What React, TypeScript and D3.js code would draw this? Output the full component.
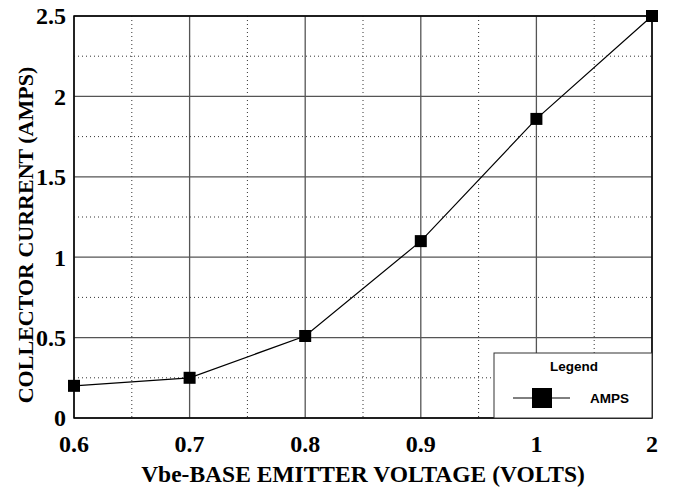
import React from "react";
import * as d3 from "d3";

const categories = ["0.6", "0.7", "0.8", "0.9", "1", "2"];
const amps = [0.2, 0.25, 0.51, 1.1, 1.86, 2.5];
const yTicks = [0, 0.5, 1, 1.5, 2, 2.5];
const yMinor = [0.25, 0.75, 1.25, 1.75, 2.25];

const W = 673, H = 489;
const L = 74, R = 652, T = 16, B = 418;

export default function App() {
  const x = d3.scalePoint<string>().domain(categories).range([L, R]);
  const y = d3.scaleLinear().domain([0, 2.5]).range([B, T]);
  const step = x.step();
  const line = d3.line<number>().x((_, i) => x(categories[i])!).y((d) => y(d));
  const serif = "'Liberation Serif', 'Times New Roman', serif";
  const sans = "'Liberation Sans', Arial, sans-serif";
  return (
    <svg width={W} height={H} style={{ position: "absolute", left: 0, top: 0, background: "#fff" }}>
      {categories.slice(0, -1).map((c) => (
        <line key={"vm" + c} x1={x(c)! + step / 2} x2={x(c)! + step / 2} y1={T} y2={B} stroke="#333" strokeWidth={1} strokeDasharray="1,3" />
      ))}
      {yMinor.map((v) => (
        <line key={"hm" + v} x1={L} x2={R} y1={y(v)} y2={y(v)} stroke="#333" strokeWidth={1} strokeDasharray="1,3" />
      ))}
      {categories.map((c) => (
        <line key={"vM" + c} x1={x(c)} x2={x(c)} y1={T} y2={B} stroke="#555" strokeWidth={1.3} />
      ))}
      {yTicks.map((v) => (
        <line key={"hM" + v} x1={L} x2={R} y1={y(v)} y2={y(v)} stroke="#555" strokeWidth={1.3} />
      ))}
      <rect x={L} y={T} width={R - L} height={B - T} fill="none" stroke="#000" strokeWidth={1.5} />
      <path d={line(amps)!} fill="none" stroke="#000" strokeWidth={1.2} />
      {amps.map((v, i) => (
        <rect key={"p" + i} x={x(categories[i])! - 6} y={y(v) - 6} width={12} height={12} fill="#000" />
      ))}
      {yTicks.map((v) => (
        <text key={"yl" + v} x={L - 8} y={y(v)} dy="0.35em" textAnchor="end" fontFamily={serif} fontWeight="bold" fontSize={24}>
          {v}
        </text>
      ))}
      {categories.map((c) => (
        <text key={"xl" + c} x={x(c)} y={452} textAnchor="middle" fontFamily={serif} fontWeight="bold" fontSize={24}>
          {c}
        </text>
      ))}
      <text x={363} y={482} textAnchor="middle" fontFamily={serif} fontWeight="bold" fontSize={23.5}>
        Vbe-BASE EMITTER VOLTAGE (VOLTS)
      </text>
      <text transform={`translate(33,235) rotate(-90)`} textAnchor="middle" fontFamily={serif} fontWeight="bold" fontSize={22}>
        COLLECTOR CURRENT (AMPS)
      </text>
      <g>
        <rect x={494} y={353} width={158} height={65} fill="#fff" stroke="#333" strokeWidth={1} />
        <text x={574} y={371} textAnchor="middle" fontFamily={sans} fontWeight="bold" fontSize={13.5}>Legend</text>
        <line x1={513} x2={570} y1={398} y2={398} stroke="#000" strokeWidth={1} />
        <rect x={532} y={388} width={20} height={20} fill="#000" />
        <text x={590} y={403} fontFamily={sans} fontWeight="bold" fontSize={13.5}>AMPS</text>
      </g>
    </svg>
  );
}
